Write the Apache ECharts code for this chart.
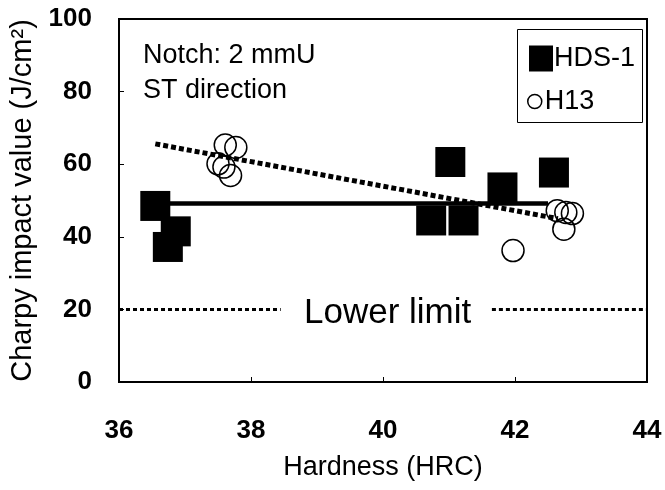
<!DOCTYPE html>
<html>
<head>
<meta charset="utf-8">
<script src="https://cdn.jsdelivr.net/npm/echarts@6/dist/echarts.min.js"></script>
<style>
  html, body { margin: 0; padding: 0; background: #fff; }
  #chart { width: 665px; height: 490px; }
</style>
</head>
<body>
<div id="chart"></div>
<script>
// Charpy impact value vs. hardness for HDS-1 and H13 (notch 2 mmU, ST direction)
const hdsHardness = [36.55, 36.74, 36.86, 40.73, 41.02, 41.22, 41.81, 42.59];
const hdsImpact   = [48.5, 37.2, 41.5, 44.5, 60.6, 44.5, 53.6, 57.7];

const h13Hardness = [37.61, 37.77, 37.50, 37.59, 37.69, 41.97, 42.64, 42.77, 42.87, 42.74];
const h13Impact   = [65.3, 64.6, 60.1, 59.2, 56.9, 36.2, 47.2, 46.7, 46.4, 42.1];

// Trend lines (end points)
const hdsFitX = [36.55, 42.5];
const hdsFitY = [49.2, 49.2];
const h13FitX = [36.55, 42.65];
const h13FitY = [65.6, 45.0];

// Lower limit and the gap left for its caption
const lowerLimit = 20;
const lowerLeftX = [36, 38.45];
const lowerRightX = [41.65, 44];
const lowerLabelX = 40.07;

const xTicks = [36, 38, 40, 42, 44];
const yTicks = [0, 20, 40, 60, 80, 100];

const FONT = 'Liberation Sans, Arial, sans-serif';

const pairs = (xs, ys) => xs.map((x, i) => [x, ys[i]]);

const chart = echarts.init(document.getElementById('chart'), null, { renderer: 'canvas' });

chart.setOption({
  backgroundColor: '#fff',
  animation: false,
  grid: {
    left: 119, top: 19, right: 18, bottom: 108,
    show: true, borderColor: '#000', borderWidth: 2
  },
  xAxis: {
    type: 'value',
    min: xTicks[0], max: xTicks[xTicks.length - 1], interval: 2,
    name: 'Hardness (HRC)',
    nameLocation: 'middle', nameGap: 72,
    nameTextStyle: { fontFamily: FONT, fontSize: 27, color: '#000' },
    axisLine: { show: true, lineStyle: { color: '#000', width: 2 } },
    axisTick: { show: true, inside: true, length: 5, lineStyle: { color: '#000', width: 1 } },
    axisLabel: { margin: 36, fontFamily: FONT, fontSize: 26, fontWeight: 'bold', color: '#000' },
    splitLine: { show: false }
  },
  yAxis: {
    type: 'value',
    min: yTicks[0], max: yTicks[yTicks.length - 1], interval: 20,
    name: 'Charpy impact value (J/cm²)',
    nameLocation: 'middle', nameGap: 78,
    nameTextStyle: { fontFamily: FONT, fontSize: 29, color: '#000' },
    axisLine: { show: true, lineStyle: { color: '#000', width: 2 } },
    axisTick: { show: true, inside: true, length: 5, lineStyle: { color: '#000', width: 1 } },
    axisLabel: { margin: 27, fontFamily: FONT, fontSize: 26, fontWeight: 'bold', color: '#000' },
    splitLine: { show: false }
  },
  legend: [
    {
      data: ['HDS-1'], left: 524, top: 40, orient: 'vertical',
      icon: 'rect', itemWidth: 24, itemHeight: 26,
      itemStyle: { color: '#000', opacity: 1 },
      textStyle: { fontFamily: FONT, fontSize: 27, color: '#000', padding: [0, 0, 0, -4] }
    },
    {
      data: ['H13'], left: 522, top: 83, orient: 'vertical',
      icon: 'circle', itemWidth: 14, itemHeight: 14,
      itemStyle: { color: '#fff', borderColor: '#000', borderWidth: 1.5, opacity: 1 },
      textStyle: { fontFamily: FONT, fontSize: 27, color: '#000', padding: [0, 0, 0, -2] }
    }
  ],
  graphic: [
    {
      type: 'rect', left: 515, top: 27, silent: true,
      shape: { width: 125, height: 93 },
      style: { fill: 'none', stroke: '#000', lineWidth: 1 }
    },
    {
      type: 'text', left: 143, top: 42,
      style: { text: 'Notch: 2 mmU', font: '27px ' + FONT, fill: '#000' }
    },
    {
      type: 'text', left: 143, top: 77,
      style: { text: 'ST direction', font: '27px ' + FONT, fill: '#000' }
    }
  ],
  series: [
    {
      name: 'HDS-1 trend', type: 'line', data: pairs(hdsFitX, hdsFitY),
      symbol: 'none', lineStyle: { color: '#000', width: 4.5 }, z: 2
    },
    {
      name: 'H13 trend', type: 'line', data: pairs(h13FitX, h13FitY),
      symbol: 'none', lineStyle: { color: '#000', width: 5, type: [5, 3] }, z: 2
    },
    {
      name: 'Lower limit L', type: 'line',
      data: lowerLeftX.map(x => [x, lowerLimit]),
      symbol: 'none', lineStyle: { color: '#000', width: 3, type: [4, 3] }
    },
    {
      name: 'Lower limit R', type: 'line',
      data: lowerRightX.map(x => [x, lowerLimit]),
      symbol: 'none', lineStyle: { color: '#000', width: 3, type: [4, 3] }
    },
    {
      name: 'Lower limit label', type: 'scatter',
      data: [[lowerLabelX, lowerLimit]], symbolSize: 0,
      itemStyle: { opacity: 1 },
      label: {
        show: true, position: 'inside', formatter: 'Lower limit', offset: [0, 4],
        fontFamily: FONT, fontSize: 35, color: '#000'
      }
    },
    {
      name: 'HDS-1', type: 'scatter', data: pairs(hdsHardness, hdsImpact),
      symbol: 'rect', symbolSize: 30,
      itemStyle: { color: '#000', opacity: 1 }, z: 3
    },
    {
      name: 'H13', type: 'scatter', data: pairs(h13Hardness, h13Impact),
      symbol: 'circle', symbolSize: 22,
      itemStyle: { color: 'rgba(255,255,255,0)', borderColor: '#000', borderWidth: 1.5, opacity: 1 }, z: 4
    }
  ]
});
</script>
</body>
</html>
